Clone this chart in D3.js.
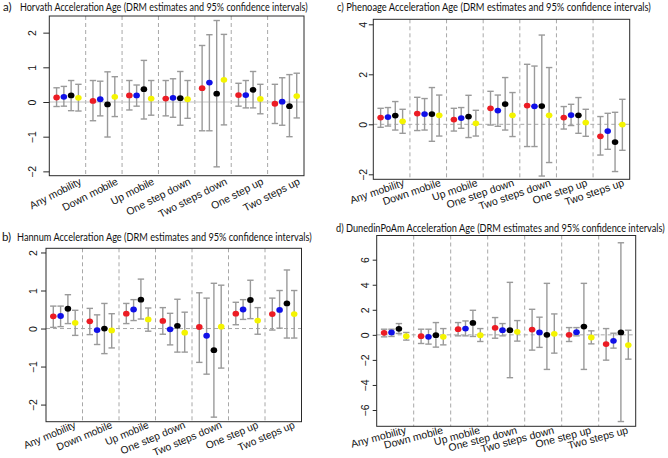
<!DOCTYPE html>
<html>
<head>
<meta charset="utf-8">
<script src="https://cdn.jsdelivr.net/npm/d3@7"></script>
<style>
  html, body { margin: 0; padding: 0; background: #fff; }
  svg { display: block; }
</style>
</head>
<body>
<svg id="chart" width="668" height="458"></svg>
<script>
// ---------- data ----------
const categories = ["Any mobility", "Down mobile", "Up mobile", "One step down", "Two steps down", "One step up", "Two steps up"];
const seriesNames = ["Model 1", "Model 2", "Model 3", "Model 4"];

// a) Horvath
const horvathEst = [[0.13,0.15,0.19,0.12],[0.03,0.08,-0.07,0.15],[0.19,0.19,0.37,0.10],[0.10,0.12,0.11,0.08],[0.40,0.56,0.24,0.64],[0.20,0.20,0.35,0.09],[-0.05,0.01,-0.12,0.17]];
const horvathLo  = [[-0.13,-0.12,-0.25,-0.26],[-0.54,-0.40,-1.01,-0.42],[-0.23,-0.12,-0.49,-0.38],[-0.40,-0.44,-0.67,-0.47],[-0.83,-0.83,-1.87,-0.66],[-0.12,-0.17,-0.17,-0.34],[-0.62,-0.67,-1.00,-0.46]];
const horvathHi  = [[0.41,0.45,0.62,0.51],[0.62,0.60,0.87,0.73],[0.62,0.49,1.20,0.62],[0.62,0.67,0.88,0.62],[1.63,1.94,2.35,1.95],[0.54,0.62,0.88,0.51],[0.51,0.70,0.79,0.83]];

// b) Hannum
const hannumEst = [[0.32,0.33,0.52,0.15],[0.19,-0.04,0.00,-0.05],[0.39,0.50,0.76,0.24],[0.20,-0.02,0.07,-0.11],[0.04,-0.19,-0.57,0.05],[0.39,0.50,0.75,0.21],[0.38,0.49,0.66,0.38]];
const hannumLo  = [[0.03,0.05,0.13,-0.18],[-0.16,-0.42,-0.66,-0.51],[0.13,0.21,0.25,-0.07],[-0.15,-0.43,-0.62,-0.62],[-0.89,-1.20,-2.33,-1.04],[0.10,0.24,0.26,-0.15],[-0.04,0.01,-0.25,-0.25]];
const hannumHi  = [[0.59,0.59,0.89,0.48],[0.53,0.36,0.66,0.39],[0.66,0.76,1.30,0.54],[0.55,0.40,0.77,0.43],[0.94,0.80,1.19,1.14],[0.69,0.76,1.27,0.55],[0.80,1.00,1.54,1.00]];

// c) Phenoage
const phenoEst = [[0.27,0.29,0.35,0.12],[0.43,0.41,0.41,0.36],[0.19,0.25,0.31,0.04],[0.64,0.55,0.81,0.36],[0.75,0.72,0.73,0.36],[0.27,0.37,0.36,0.07],[-0.48,-0.27,-0.71,-0.01]];
const phenoLo  = [[-0.12,-0.07,-0.23,-0.36],[-0.25,-0.23,-0.68,-0.47],[-0.27,-0.16,-0.53,-0.47],[-0.03,-0.08,-0.23,-0.49],[-0.89,-0.89,-2.07,-1.53],[-0.19,-0.05,-0.36,-0.48],[-1.23,-1.00,-1.89,-1.04]];
const phenoHi  = [[0.64,0.67,0.91,0.60],[1.08,1.03,1.47,1.17],[0.64,0.67,1.16,0.56],[1.32,1.17,1.87,1.27],[2.40,2.33,3.57,2.27],[0.71,0.80,1.07,0.60],[0.31,0.44,0.48,1.00]];

// d) DunedinPoAm
const dunedinEst = [[0.16,0.19,0.48,-0.11],[-0.11,-0.16,-0.03,-0.16],[0.45,0.50,0.95,-0.03],[0.56,0.37,0.37,0.24],[0.42,0.19,0.00,0.08],[0.00,0.21,0.66,-0.21],[-0.74,-0.48,0.19,-0.82]];
const dunedinLo  = [[-0.16,-0.13,0.11,-0.42],[-0.69,-0.74,-0.98,-0.80],[-0.08,-0.08,-0.13,-0.53],[-0.27,-0.08,-3.42,-0.50],[-1.22,-1.00,-2.76,-1.46],[-0.53,-0.08,-2.76,-0.72],[-2.02,-1.06,-6.92,-1.94]];
const dunedinHi  = [[0.45,0.45,0.90,0.19],[0.45,0.45,0.98,0.50],[0.98,1.11,1.96,0.50],[1.38,0.90,4.19,1.14],[2.04,1.41,4.11,1.67],[0.58,0.58,4.11,0.32],[0.50,0.13,7.35,0.37]];

const horvathTicks = [-2, -1, 0, 1, 2];
const hannumTicks = [-2, -1, 0, 1, 2];
const phenoTicks = [-2, 0, 2, 4];
const dunedinTicks = [-6, -4, -2, 0, 2, 4, 6];

// ---------- styles / layout ----------
const pointColors = ["#ec1c24", "#1010e8", "#000000", "#f4f400"];
const offsets = [-0.3, -0.1, 0.1, 0.3];

const panels = [
  { prefix: "a)", prefixX: 3, title: "Horvath Acceleration Age (DRM estimates and 95% confidence intervals)", titleX: 20, titleW: 288, titleY: 10.5,
    est: horvathEst, lo: horvathLo, hi: horvathHi, ticks: horvathTicks,
    box: [49.3, 16, 304, 175.7], ydom: [-2.125, 2.48], zeroDash: false,
    tickLen: 6, labOff: 17, angle: 27, ldx: 13, ldy: 4.5, lfs: 10.5 },
  { prefix: "b)", prefixX: 2, title: "Hannum Acceleration Age (DRM estimates and 95% confidence intervals)", titleX: 17, titleW: 295, titleY: 240.5,
    est: hannumEst, lo: hannumLo, hi: hannumHi, ticks: hannumTicks,
    box: [46, 248.3, 301.5, 421.7], ydom: [-2.45, 2.11], zeroDash: true,
    tickLen: 5, labOff: 12.7, angle: 23, ldx: 11, ldy: 2.5, lfs: 10.3 },
  { prefix: "", prefixX: 0, title: "c) Phenoage Acceleration Age (DRM estimates and 95% confidence intervals)", titleX: 337, titleW: 314, titleY: 10.5,
    est: phenoEst, lo: phenoLo, hi: phenoHi, ticks: phenoTicks,
    box: [373.3, 19.3, 629.7, 179.3], ydom: [-2.2, 4.2], zeroDash: true,
    tickLen: 4.5, labOff: 10, angle: 19, ldx: 12, ldy: 2.5, lfs: 10.5 },
  { prefix: "", prefixX: 0, title: "d) DunedinPoAm Acceleration Age (DRM estimates and 95% confidence intervals)", titleX: 336, titleW: 329, titleY: 231.5,
    est: dunedinEst, lo: dunedinLo, hi: dunedinHi, ticks: dunedinTicks,
    box: [376.7, 235.5, 635.7, 426.3], ydom: [-7.3, 7.93], zeroDash: true,
    tickLen: 4, labOff: 12, angle: 15, ldx: 10.5, ldy: 3, lfs: 10.5 }
];

const svg = d3.select("#chart");
const titleFont = "Lato, 'Open Sans', 'Liberation Sans', sans-serif";
const axisFont = "'Liberation Sans', Arial, Helvetica, sans-serif";

panels.forEach(p => {
  const [L, T, R, B] = p.box;
  const x = d3.scaleLinear().domain([0.5, categories.length + 0.5]).range([L, R]);
  const y = d3.scaleLinear().domain(p.ydom).range([B, T]);
  const g = svg.append("g");

  // title (horizontally condensed to the reference width)
  if (p.prefix) {
    g.append("text").attr("x", p.prefixX).attr("y", p.titleY)
      .attr("font-family", titleFont).attr("font-size", 11.5).attr("fill", "#111")
      .text(p.prefix);
  }
  const tt = g.append("text").attr("x", 0).attr("y", 0)
    .attr("font-family", titleFont).attr("font-size", 11.5).attr("fill", "#111")
    .text(p.title);
  const natural = tt.node().getComputedTextLength() || p.titleW;
  tt.attr("transform", `translate(${p.titleX},${p.titleY}) scale(${p.titleW / natural},1)`);

  // separators
  g.selectAll(".sep").data(d3.range(1, categories.length)).enter().append("line")
    .attr("x1", d => x(d + 0.5)).attr("x2", d => x(d + 0.5))
    .attr("y1", T).attr("y2", B)
    .attr("stroke", "#a8a8a8").attr("stroke-width", 1).attr("stroke-dasharray", "4,3");

  // zero line
  g.append("line").attr("x1", L).attr("x2", R).attr("y1", y(0)).attr("y2", y(0))
    .attr("stroke", p.zeroDash ? "#a8a8a8" : "#c4c4c4").attr("stroke-width", 1)
    .attr("stroke-dasharray", p.zeroDash ? "4,3" : null);

  // flatten data
  const pts = [];
  categories.forEach((c, i) => {
    seriesNames.forEach((s, j) => {
      pts.push({ xv: i + 1 + offsets[j], est: p.est[i][j], lo: p.lo[i][j], hi: p.hi[i][j], j });
    });
  });

  const bar = g.selectAll(".eb").data(pts).enter().append("g");
  bar.append("line").attr("x1", d => x(d.xv)).attr("x2", d => x(d.xv))
    .attr("y1", d => y(d.lo)).attr("y2", d => y(d.hi))
    .attr("stroke", "#9a9a9a").attr("stroke-width", 1.4);
  [ "lo", "hi" ].forEach(k => {
    bar.append("line").attr("x1", d => x(d.xv) - 3.2).attr("x2", d => x(d.xv) + 3.2)
      .attr("y1", d => y(d[k])).attr("y2", d => y(d[k]))
      .attr("stroke", "#9a9a9a").attr("stroke-width", 1.4);
  });
  g.selectAll(".pt").data(pts).enter().append("ellipse")
    .attr("cx", d => x(d.xv)).attr("cy", d => y(d.est))
    .attr("rx", 3.3).attr("ry", 2.9)
    .attr("fill", d => pointColors[d.j]);

  // box
  g.append("rect").attr("x", L).attr("y", T).attr("width", R - L).attr("height", B - T)
    .attr("fill", "none").attr("stroke", "#2a2a2a").attr("stroke-width", 1);

  // y axis
  const ya = g.append("g").attr("transform", `translate(${L},0)`)
    .call(d3.axisLeft(y).tickValues(p.ticks).tickSize(p.tickLen).tickFormat(d3.format("d")));
  ya.select(".domain").remove();
  ya.selectAll(".tick line").attr("stroke", "#2a2a2a");
  ya.selectAll(".tick text").attr("x", null).attr("dy", null)
    .attr("transform", `translate(${-p.labOff},0) rotate(-90)`)
    .attr("text-anchor", "middle").attr("dominant-baseline", "central")
    .attr("font-family", axisFont).attr("font-size", 10.5).attr("fill", "#111");

  // x labels
  g.selectAll(".xl").data(categories).enter().append("text")
    .attr("transform", (d, i) => `translate(${x(i + 1) + p.ldx},${B + p.ldy}) rotate(${-p.angle})`)
    .attr("text-anchor", "end").attr("dominant-baseline", "central")
    .attr("font-family", axisFont).attr("font-size", p.lfs).attr("fill", "#111")
    .text(d => d);
});
</script>
</body>
</html>
